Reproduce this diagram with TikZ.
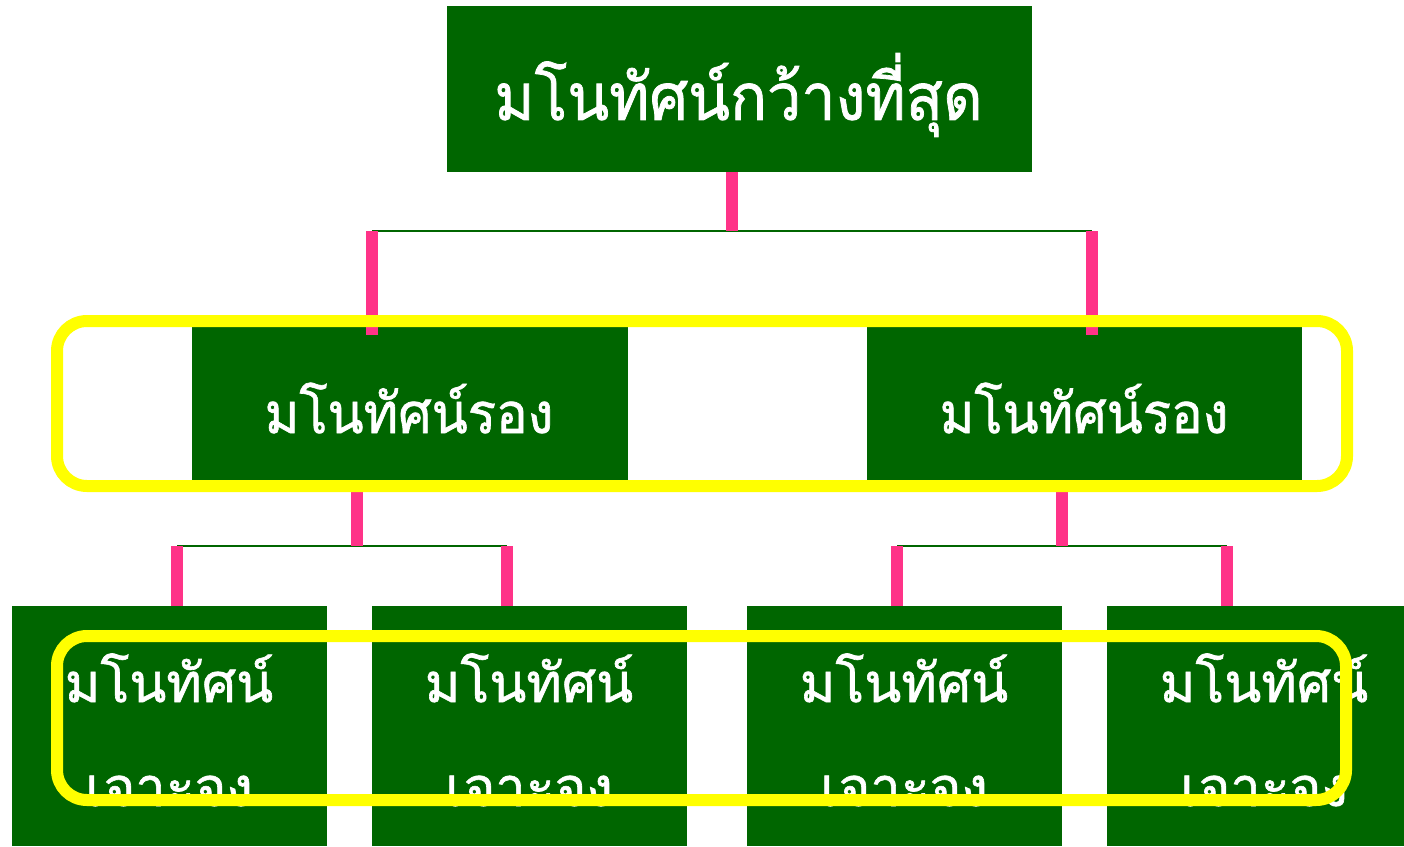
\documentclass[tikz,border=0pt]{standalone}
\usepackage{fontspec}
\newfontfamily\thai[Script=Thai,FakeBold=1.2]{Loma}
\definecolor{boxgreen}{HTML}{006600}
\definecolor{linkpink}{HTML}{FF3388}
\definecolor{ringyellow}{HTML}{FFFF00}
\tikzset{
  gbox/.style={fill=boxgreen, draw=none, inner sep=0pt, text=white},
  pinklink/.style={draw=linkpink, line width=12pt},
  thinlink/.style={draw=boxgreen, line width=2pt},
  ring/.style={draw=ringyellow, line width=12pt, rounded corners=30pt},
  toptext/.style={text=white, font=\thai\fontsize{65}{70}\selectfont, inner sep=0pt, xscale=0.94, transform shape},
  midtext/.style={text=white, font=\thai\fontsize{56}{60}\selectfont, inner sep=0pt, xscale=0.94, transform shape},
  bottext/.style={text=white, font=\thai\fontsize{54}{58}\selectfont, inner sep=0pt, anchor=base, xscale=1.0, transform shape}
}
\begin{document}
\begin{tikzpicture}[x=1pt,y=-1pt]
\useasboundingbox (0,0) rectangle (1404,846);
% boxes
\node[gbox, minimum width=585pt, minimum height=166pt] (top) at (739.5,89) {};
\node[gbox, minimum width=436pt, minimum height=153pt] (midL) at (410,403.5) {};
\node[gbox, minimum width=435pt, minimum height=153pt] (midR) at (1084.5,403.5) {};
\node[gbox, minimum width=315pt, minimum height=240pt] (b1) at (169.5,726) {};
\node[gbox, minimum width=315pt, minimum height=240pt] (b2) at (529.5,726) {};
\node[gbox, minimum width=315pt, minimum height=240pt] (b3) at (904.5,726) {};
\node[gbox, minimum width=315pt, minimum height=240pt] (b4) at (1264.5,726) {};
% texts
\node[toptext] (ttop) at (738.5,95) {มโนทัศน์กว้างที่สุด};
\node[midtext] (tmidL) at (409,408) {มโนทัศน์รอง};
\node[midtext] (tmidR) at (1084,408) {มโนทัศน์รอง};
\begin{scope}
\clip (0,600) rectangle (1404,806);
\node[bottext] (t1a) at (169,702) {มโนทัศน์};
\node[bottext] (t1b) at (169,806) {เจาะจง};
\node[bottext] (t2a) at (529,702) {มโนทัศน์};
\node[bottext] (t2b) at (529,806) {เจาะจง};
\node[bottext] (t3a) at (904,702) {มโนทัศน์};
\node[bottext] (t3b) at (904,806) {เจาะจง};
\node[bottext] (t4a) at (1264,702) {มโนทัศน์};
\node[bottext] (t4b) at (1264,806) {เจาะจง};
\end{scope}
% connector junctions
\coordinate (j0) at (732,231);
\coordinate (jL) at (372,231);
\coordinate (jR) at (1092,231);
\coordinate (k0) at (357,546);
\coordinate (k1) at (177,546);
\coordinate (k2) at (507,546);
\coordinate (m0) at (1062,546);
\coordinate (m1) at (897,546);
\coordinate (m2) at (1227,546);
% thin horizontals
\draw[thinlink] (jL) -- (jR);
\draw[thinlink] (k1) -- (k2);
\draw[thinlink] (m1) -- (m2);
% pink verticals
\draw[pinklink] (top.south -| j0) -- (j0);
\draw[pinklink] (jL) -- ([yshift=-8pt]midL.north -| jL);
\draw[pinklink] (jR) -- ([yshift=-8pt]midR.north -| jR);
\draw[pinklink] (midL.south -| k0) -- (k0);
\draw[pinklink] (k1) -- (b1.north -| k1);
\draw[pinklink] (k2) -- (b2.north -| k2);
\draw[pinklink] (midR.south -| m0) -- (m0);
\draw[pinklink] (m1) -- (b3.north -| m1);
\draw[pinklink] (m2) -- (b4.north -| m2);
% yellow rings
\draw[ring] (57,321) rectangle (1347,486);
\draw[ring] (57,636) rectangle (1346,800);
\end{tikzpicture}
\end{document}
